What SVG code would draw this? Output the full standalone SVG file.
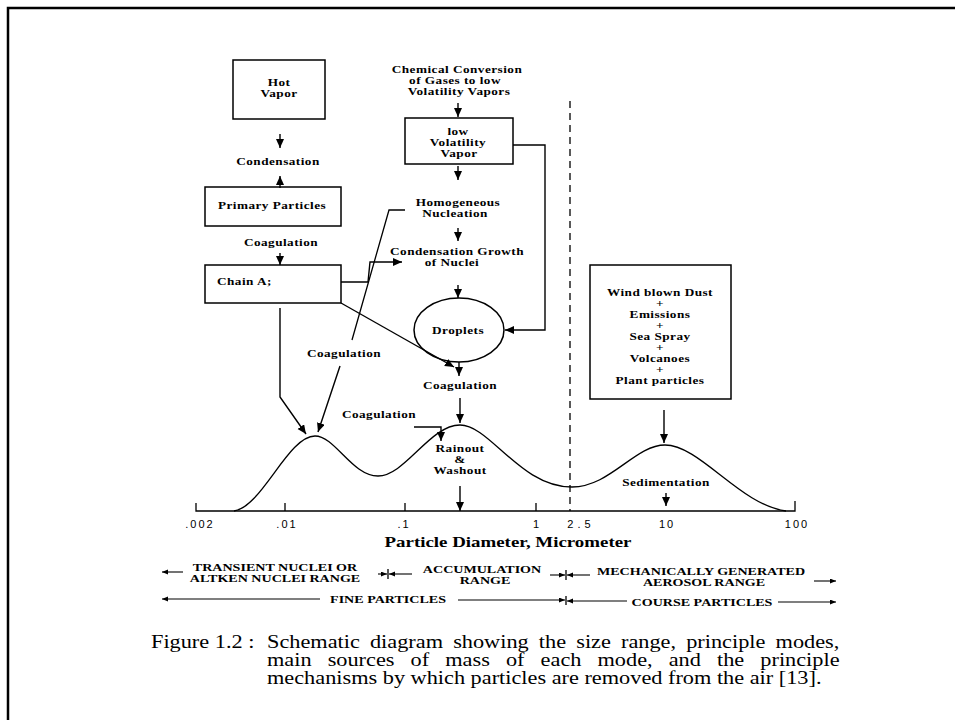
<svg xmlns="http://www.w3.org/2000/svg" width="955" height="720" viewBox="0 0 955 720">
<style>
.lb{font-family:"Liberation Serif","Times New Roman",serif;font-weight:bold;font-size:9.8px;letter-spacing:0.35px;fill:#000;text-anchor:middle}
.st{text-anchor:start}
.rg{font-family:"Liberation Serif","Times New Roman",serif;font-weight:bold;font-size:9.9px;fill:#000;text-anchor:middle}
.tk{font-family:"Liberation Sans",Arial,sans-serif;font-size:11px;fill:#000;text-anchor:middle;letter-spacing:2px}
.ttl{font-family:"Liberation Serif","Times New Roman",serif;font-weight:bold;font-size:15.5px;fill:#000;text-anchor:middle}
.cap{font-family:"Liberation Serif","Times New Roman",serif;font-size:18px;fill:#000}
.box{fill:#fff;stroke:#000;stroke-width:1.5}
.ln{fill:none;stroke:#000;stroke-width:1.3}
.ar{fill:none;stroke:#000;stroke-width:1.4;marker-end:url(#ah)}
.ars{fill:none;stroke:#000;stroke-width:1.1;marker-end:url(#ahs)}
</style>
<defs>
<marker id="ah" markerWidth="10" markerHeight="9" refX="9" refY="4" orient="auto" markerUnits="userSpaceOnUse"><path d="M0,0 L9,4 L0,8 z" fill="#000"/></marker>
<marker id="ahs" markerWidth="7" markerHeight="6" refX="6" refY="2.5" orient="auto" markerUnits="userSpaceOnUse"><path d="M0,0 L6,2.5 L0,5 z" fill="#000"/></marker>
</defs>
<rect width="955" height="720" fill="#fff"/>
<path d="M8,720 L8,8 L955,8" fill="none" stroke="#000" stroke-width="2.5"/>

<g id="hot-vapor">
<rect class="box" x="233" y="60" width="92" height="59"/>
<text class="lb" transform="translate(279,86) scale(1.35,1)">Hot</text>
<text class="lb" transform="translate(279,97) scale(1.35,1)">Vapor</text>
</g>
<g id="condensation"><text class="lb" transform="translate(278,165) scale(1.35,1)">Condensation</text></g>
<g id="primary-particles">
<rect class="box" x="205" y="187" width="136" height="39"/>
<text class="lb" transform="translate(272,209) scale(1.35,1)">Primary Particles</text>
</g>
<g id="coagulation-1"><text class="lb" transform="translate(281,246) scale(1.35,1)">Coagulation</text></g>
<g id="chain-ag">
<rect class="box" x="205" y="265" width="136" height="38"/>
<text class="lb st" transform="translate(217,285) scale(1.35,1)">Chain A;</text>
</g>
<g id="chemical-conversion">
<text class="lb" transform="translate(457,73) scale(1.35,1)">Chemical Conversion</text>
<text class="lb" transform="translate(455,84) scale(1.35,1)">of Gases to low</text>
<text class="lb" transform="translate(459,95) scale(1.35,1)">Volatility Vapors</text>
</g>
<g id="low-volatility-vapor">
<rect class="box" x="405" y="118" width="108" height="46"/>
<text class="lb" transform="translate(458,135) scale(1.35,1)">low</text>
<text class="lb" transform="translate(458,146) scale(1.35,1)">Volatility</text>
<text class="lb" transform="translate(459,157) scale(1.35,1)">Vapor</text>
</g>
<g id="homogeneous-nucleation">
<text class="lb" transform="translate(458,206) scale(1.35,1)">Homogeneous</text>
<text class="lb" transform="translate(455,217) scale(1.35,1)">Nucleation</text>
</g>
<g id="condensation-growth">
<text class="lb" transform="translate(457,255) scale(1.35,1)">Condensation Growth</text>
<text class="lb" transform="translate(452,266) scale(1.35,1)">of Nuclei</text>
</g>
<g id="droplets">
<ellipse class="box" cx="459" cy="330" rx="45" ry="32"/>
<text class="lb" transform="translate(458,334) scale(1.35,1)">Droplets</text>
</g>
<g id="coagulation-2"><text class="lb" transform="translate(460,389) scale(1.35,1)">Coagulation</text></g>
<g id="coagulation-3"><text class="lb" transform="translate(344,357) scale(1.35,1)">Coagulation</text></g>
<g id="coagulation-4"><text class="lb" transform="translate(379,418) scale(1.35,1)">Coagulation</text></g>
<g id="rainout-washout">
<text class="lb" transform="translate(460,452) scale(1.35,1)">Rainout</text>
<text class="lb" transform="translate(460,463) scale(1.35,1)">&amp;</text>
<text class="lb" transform="translate(460,474) scale(1.35,1)">Washout</text>
</g>
<g id="coarse-sources">
<rect class="box" x="590" y="265" width="141" height="134"/>
<text class="lb" transform="translate(660,296) scale(1.35,1)">Wind blown Dust</text>
<text class="lb" transform="translate(660,307) scale(1.35,1)">+</text>
<text class="lb" transform="translate(660,318) scale(1.35,1)">Emissions</text>
<text class="lb" transform="translate(660,329) scale(1.35,1)">+</text>
<text class="lb" transform="translate(660,340) scale(1.35,1)">Sea Spray</text>
<text class="lb" transform="translate(660,351) scale(1.35,1)">+</text>
<text class="lb" transform="translate(660,362) scale(1.35,1)">Volcanoes</text>
<text class="lb" transform="translate(660,373) scale(1.35,1)">+</text>
<text class="lb" transform="translate(660,384) scale(1.35,1)">Plant particles</text>
</g>
<g id="sedimentation"><text class="lb" transform="translate(666,486) scale(1.35,1)">Sedimentation</text></g>

<g id="size-distribution">
<path class="ln" d="M234,511 C262,507 288,436 315,436 C335,436 352,476 378,476 C405,476 430,425 460,425 C490,425 520,487 572,487 C610,487 635,445 665,445 C700,445 740,505 786,511"/>
<path class="ln" d="M196,503 L196,511 L795,511 L795,501"/>
<path class="ln" d="M285,511 V503 M405,511 V503 M536,511 V503"/>
<line x1="570" y1="101" x2="570" y2="511" stroke="#000" stroke-width="1.3" stroke-dasharray="7 5"/>
<text class="tk" x="200" y="528">.002</text>
<text class="tk" x="287" y="528">.01</text>
<text class="tk" x="404" y="528">.1</text>
<text class="tk" x="537" y="528">1</text>
<text class="tk" x="581" y="528" style="letter-spacing:4px">2.5</text>
<text class="tk" x="667" y="528">10</text>
<text class="tk" x="797" y="528">100</text>
<text class="ttl" transform="translate(508,547) scale(1.22,1)">Particle Diameter, Micrometer</text>
</g>

<g id="connectors">
<path class="ar" d="M280,134 V148"/>
<path class="ar" d="M280,188 V176"/>
<path class="ar" d="M280,253 V265"/>
<path class="ar" d="M458,103 V117"/>
<path class="ar" d="M458,166 V180"/>
<path class="ar" d="M458,228 V241"/>
<path class="ar" d="M458,285 V298"/>
<path class="ar" d="M459,362 V376"/>
<path class="ar" d="M460,398 V423"/>
<path class="ar" d="M513,145 H545 V330 H505"/>
<path class="ar" d="M341,282 H368 L370,262 H402"/>
<path class="ar" d="M341,303 L454,367"/>
<path class="ar" d="M280,308 V397 L306,434"/>
<path class="ln" d="M405,210 H389 L352,340"/>
<path class="ar" d="M340,366 L318,432"/>
<path class="ar" d="M414,427 H441 V441"/>
<path class="ar" d="M460,486 V511"/>
<path class="ar" d="M664,410 V443"/>
<path class="ar" d="M666,493 V506"/>
</g>

<g id="size-ranges">
<path class="ars" d="M183,572 H162"/>
<text class="rg" transform="translate(275,571) scale(1.42,1)">TRANSIENT NUCLEI OR</text>
<text class="rg" transform="translate(275,582) scale(1.42,1)">ALTKEN NUCLEI RANGE</text>
<path class="ars" d="M378,574 H387"/>
<path class="ln" d="M388,569 V579"/>
<path class="ars" d="M412,574 H389"/>
<text class="rg" transform="translate(482,573) scale(1.42,1)">ACCUMULATION</text>
<text class="rg" transform="translate(485,584) scale(1.42,1)">RANGE</text>
<path class="ars" d="M550,575 H565"/>
<path class="ln" d="M566,570 V580"/>
<path class="ars" d="M590,575 H567"/>
<text class="rg" transform="translate(701,575) scale(1.42,1)">MECHANICALLY GENERATED</text>
<text class="rg" transform="translate(704,586) scale(1.42,1)">AEROSOL RANGE</text>
<path class="ars" d="M814,581 H836"/>
<path class="ars" d="M320,599 H162"/>
<text class="rg" transform="translate(388,603) scale(1.42,1)">FINE PARTICLES</text>
<path class="ars" d="M458,600 H565"/>
<path class="ln" d="M566,596 V605"/>
<path class="ars" d="M627,601 H567"/>
<text class="rg" transform="translate(702,606) scale(1.42,1)">COURSE PARTICLES</text>
<path class="ars" d="M778,602 H836"/>
</g>

<g id="caption">
<text class="cap" transform="translate(151,648) scale(1.239,1)">Figure 1.2 :</text>
<text class="cap" transform="translate(267,648) scale(1.239,1)" style="word-spacing:3.7px">Schematic diagram showing the size range, principle modes,</text>
<text class="cap" transform="translate(267,666) scale(1.239,1)" style="word-spacing:8.5px">main sources of mass of each mode, and the principle</text>
<text class="cap" transform="translate(267,684) scale(1.239,1)">mechanisms by which particles are removed from the air [13].</text>
</g>
</svg>
